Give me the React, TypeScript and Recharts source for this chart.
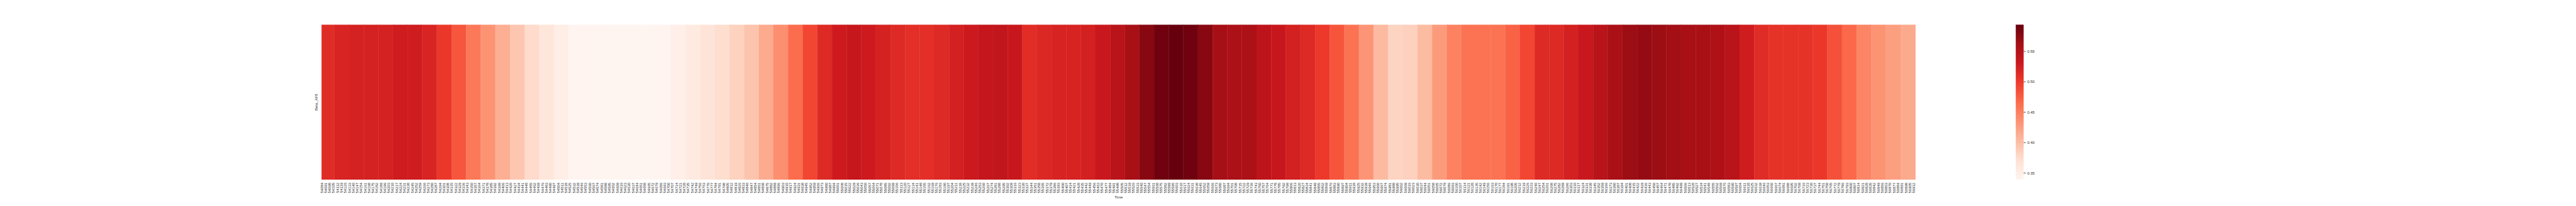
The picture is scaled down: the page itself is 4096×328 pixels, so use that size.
import React from 'react';
import { ComposedChart, XAxis, YAxis, ReferenceArea, Line, Label } from 'recharts';

// ---- data ----
const ROW_NAME = 'Beta_AF8';
const X_TITLE = 'Time';
const TIME_MIN = 54084;
const TIME_MAX = 56916;

// start time of each constant-colour block
const BLOCK_STARTS = [
  54084, 54107, 54133, 54159, 54185, 54211, 54237, 54263, 54289, 54315,
  54341, 54367, 54393, 54419, 54445, 54471, 54497, 54523, 54549, 54575,
  54601, 54627, 54653, 54679, 54705, 54731, 54757, 54783, 54809, 54835,
  54861, 54887, 54913, 54939, 54965, 54991, 55017, 55043, 55069, 55095,
  55121, 55147, 55173, 55199, 55225, 55251, 55277, 55303, 55329, 55355,
  55381, 55407, 55433, 55459, 55485, 55511, 55537, 55563, 55589, 55615,
  55641, 55667, 55693, 55719, 55745, 55771, 55797, 55823, 55849, 55875,
  55901, 55927, 55953, 55979, 56005, 56031, 56057, 56083, 56109, 56135,
  56161, 56187, 56213, 56239, 56265, 56291, 56317, 56343, 56369, 56395,
  56421, 56447, 56473, 56499, 56525, 56551, 56577, 56603, 56629, 56655,
  56681, 56707, 56733, 56759, 56785, 56811, 56837, 56863, 56889, 56915,
];

// Beta_AF8 value of each block
const BLOCK_VALUES = [
  0.512, 0.519, 0.522, 0.522, 0.522, 0.527, 0.527, 0.519, 0.502, 0.480,
  0.455, 0.433, 0.412, 0.393, 0.375, 0.362, 0.350, 0.340, 0.340, 0.339,
  0.339, 0.339, 0.339, 0.340, 0.348, 0.356, 0.365, 0.373, 0.383, 0.395,
  0.415, 0.437, 0.464, 0.491, 0.514, 0.528, 0.535, 0.528, 0.521, 0.514,
  0.509, 0.509, 0.514, 0.523, 0.529, 0.536, 0.539, 0.533, 0.511, 0.516,
  0.520, 0.520, 0.523, 0.532, 0.545, 0.560, 0.577, 0.590, 0.594, 0.590,
  0.577, 0.561, 0.556, 0.556, 0.543, 0.533, 0.523, 0.514, 0.500, 0.481,
  0.459, 0.432, 0.403, 0.382, 0.384, 0.402, 0.428, 0.447, 0.459, 0.459,
  0.459, 0.472, 0.491, 0.514, 0.514, 0.523, 0.532, 0.546, 0.557, 0.566,
  0.570, 0.567, 0.563, 0.559, 0.559, 0.554, 0.546, 0.527, 0.512, 0.506,
  0.506, 0.506, 0.502, 0.484, 0.467, 0.445, 0.434, 0.425, 0.416, 0.407,
];

// x tick labels: every 7th time step
const TICK_START = 54084;
const TICK_STEP = 7;
const TICK_COUNT = 405;
const TICK_LABELS = Array.from({ length: TICK_COUNT }, (_, i) => TICK_START + TICK_STEP * i);

// colour bar
const VMIN = 0.339;
const VMAX = 0.594;
const CBAR_TICKS = [0.35, 0.4, 0.45, 0.5, 0.55];

// ---- style ----
const FONT = '"Liberation Sans", Arial, Helvetica, sans-serif';
const TEXT = '#262626';
const REDS = ['#fff5f0', '#fee0d2', '#fcbba1', '#fc9272', '#fb6a4a', '#ef3b2c', '#cb181d', '#a50f15', '#67000d'];

function hexToRgb(h: string) {
  return [parseInt(h.slice(1, 3), 16), parseInt(h.slice(3, 5), 16), parseInt(h.slice(5, 7), 16)];
}
function redsColor(v: number) {
  let t = (v - VMIN) / (VMAX - VMIN);
  t = Math.max(0, Math.min(1, t));
  const p = t * (REDS.length - 1);
  const i = Math.min(REDS.length - 2, Math.floor(p));
  const f = p - i;
  const a = hexToRgb(REDS[i]);
  const b = hexToRgb(REDS[i + 1]);
  const c = a.map((x, k) => Math.round(x + (b[k] - x) * f));
  return `rgb(${c[0]},${c[1]},${c[2]})`;
}

const blocks = BLOCK_STARTS.map((s, i) => ({
  x: s,
  x2: i + 1 < BLOCK_STARTS.length ? BLOCK_STARTS[i + 1] : TIME_MAX,
  v: BLOCK_VALUES[i],
}));

const tickPositions = TICK_LABELS.map((t) => t + 0.5);

const XTick = (props: any) => {
  const { x, y, payload } = props;
  const yy = y + 4.7;
  return (
    <text
      x={x}
      y={yy}
      transform={`rotate(-90 ${x} ${yy})`}
      textAnchor="end"
      dominantBaseline="central"
      fontSize={6}
      fill={TEXT}
      fontFamily={FONT}
    >
      {String(Math.round(payload.value - 0.5))}
    </text>
  );
};

const PLOT_LEFT = 511.2;
const PLOT_RIGHT = 3046.2;
const PLOT_TOP = 39.2;
const PLOT_BOTTOM = 286.1;
const W = 4096;
const H = 328;
const XAXIS_H = 40;

export default function App() {
  return (
    <div style={{ position: 'absolute', left: 0, top: 0, width: W, height: H, background: '#fff' }}>
      <div style={{ position: 'absolute', left: 0, top: 0 }}>
        <ComposedChart
          width={W}
          height={H}
          data={blocks}
          margin={{ left: 0, top: PLOT_TOP, right: W - PLOT_RIGHT, bottom: H - PLOT_BOTTOM - XAXIS_H }}
        >
          <XAxis
            type="number"
            dataKey="x"
            domain={[TIME_MIN, TIME_MAX]}
            allowDataOverflow
            ticks={tickPositions}
            interval={0}
            tick={<XTick />}
            tickLine={false}
            axisLine={false}
            tickSize={0}
            tickMargin={0}
            height={XAXIS_H}
          >
            <Label
              content={(p: any) => {
                const vb = p.viewBox;
                return (
                  <text
                    x={vb.x + vb.width / 2}
                    y={vb.y + 27.4}
                    textAnchor="middle"
                    dominantBaseline="central"
                    fontSize={6}
                    fill={TEXT}
                    fontFamily={FONT}
                  >
                    {X_TITLE}
                  </text>
                );
              }}
            />
          </XAxis>
          <YAxis
            type="number"
            domain={[0, 1]}
            allowDataOverflow
            width={PLOT_LEFT}
            tick={false}
            tickLine={false}
            axisLine={false}
          >
            <Label
              content={(p: any) => {
                const vb = p.viewBox;
                const lx = vb.x + vb.width - 8.5;
                const ly = vb.y + vb.height / 2;
                return (
                  <text
                    x={lx}
                    y={ly}
                    transform={`rotate(-90 ${lx} ${ly})`}
                    textAnchor="middle"
                    dominantBaseline="central"
                    fontSize={6}
                    fill={TEXT}
                    fontFamily={FONT}
                  >
                    {ROW_NAME}
                  </text>
                );
              }}
            />
          </YAxis>
          {blocks.map((b, i) => (
            <ReferenceArea
              key={i}
              x1={b.x}
              x2={b.x2}
              y1={0}
              y2={1}
              fill={redsColor(b.v)}
              fillOpacity={1}
              stroke={redsColor(b.v)}
              strokeWidth={0.4}
              ifOverflow="hidden"
            />
          ))}
          <Line dataKey="v" stroke="none" dot={false} activeDot={false} isAnimationActive={false} />
        </ComposedChart>
      </div>
      <div style={{ position: 'absolute', left: 3150, top: 0 }}>
        <ComposedChart
          width={200}
          height={H}
          data={[{ x: 0 }, { x: 1 }]}
          margin={{ left: 55.2, top: PLOT_TOP, right: 0, bottom: H - PLOT_BOTTOM }}
        >
          <defs>
            <linearGradient id="redsGrad" x1="0" y1="0" x2="0" y2="1">
              {REDS.slice()
                .reverse()
                .map((c, i) => (
                  <stop key={i} offset={`${(i / (REDS.length - 1)) * 100}%`} stopColor={c} />
                ))}
            </linearGradient>
          </defs>
          <XAxis type="number" dataKey="x" domain={[0, 1]} hide />
          <YAxis
            type="number"
            orientation="right"
            domain={[VMIN, VMAX]}
            allowDataOverflow
            ticks={CBAR_TICKS}
            interval={0}
            tickFormatter={(v: number) => v.toFixed(2)}
            width={200 - 55.2 - 12.5}
            axisLine={false}
            tickSize={3.4}
            tickMargin={2.3}
            tickLine={{ stroke: TEXT, strokeWidth: 0.8 }}
            tick={{ fontSize: 6, fill: TEXT, fontFamily: FONT }}
          />
          <ReferenceArea y1={VMIN} y2={VMAX} fill="url(#redsGrad)" fillOpacity={1} stroke="none" />
        </ComposedChart>
      </div>
    </div>
  );
}
